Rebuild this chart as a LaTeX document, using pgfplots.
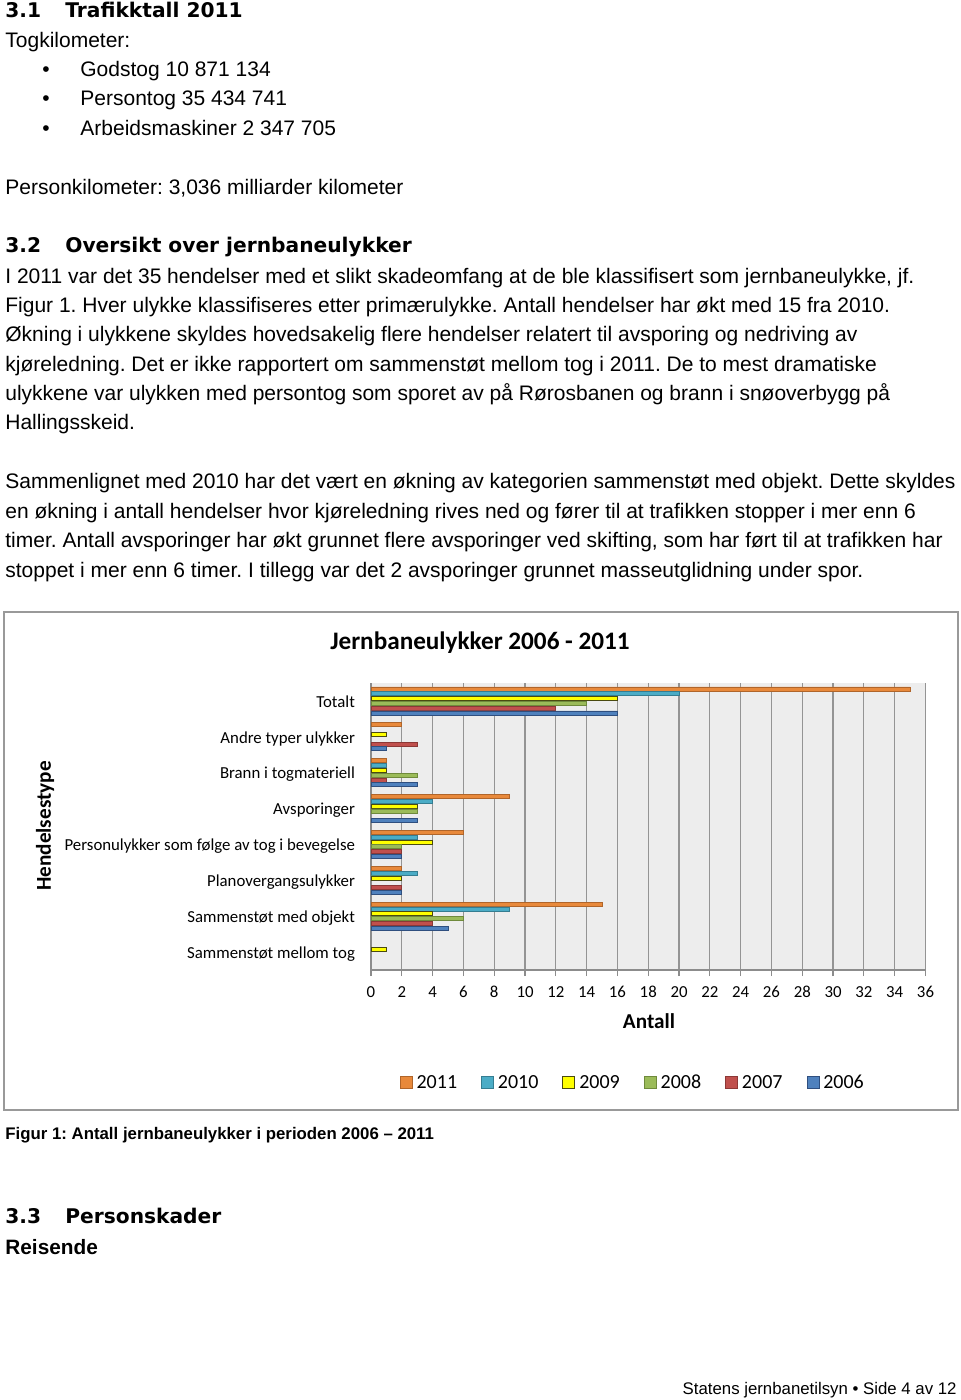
\documentclass[border=0pt]{standalone}
\usepackage{pgfplots}
\pgfplotsset{compat=1.18}
\usepackage{fontspec}
\setmainfont{Liberation Sans}
\newfontfamily\calibri{Carlito}
\newfontfamily\dejavu{DejaVu Sans}
\definecolor{c11}{HTML}{E8893B}\definecolor{c11d}{HTML}{B0652A}
\definecolor{c10}{HTML}{4BACC6}\definecolor{c10d}{HTML}{357D91}
\definecolor{c09}{HTML}{FFFF00}\definecolor{c09d}{HTML}{4A4A10}
\definecolor{c08}{HTML}{9BBB59}\definecolor{c08d}{HTML}{6F8A3C}
\definecolor{c07}{HTML}{C0504D}\definecolor{c07d}{HTML}{8C3836}
\definecolor{c06}{HTML}{4F81BD}\definecolor{c06d}{HTML}{2F4F7F}
\pgfplotsset{sqleg/.style={legend image code/.code={\draw[##1,line width=0.4pt] (0pt,-3pt) rectangle (6pt,3pt);}}}
\frenchspacing
\begin{document}
\begin{tikzpicture}[x=0.5pt,y=-0.5pt]
\path[use as bounding box] (0,0) rectangle (960,1400);
\tikzset{body/.style={anchor=mid west,inner sep=0pt,font=\fontsize{10.5}{12}\selectfont},
  head/.style={anchor=mid west,inner sep=0pt,font=\dejavu\bfseries\fontsize{10.1}{12}\selectfont}}
\node[head] at (5,12) {3.1};
\node[head] at (65,12) {Trafikktall 2011};
\node[body] at (5,42) {Togkilometer:};
\node[body] at (42,71) {•};
\node[body] at (80,71) {Godstog 10 871 134};
\node[body] at (42,100) {•};
\node[body] at (80,100) {Persontog 35 434 741};
\node[body] at (42,130) {•};
\node[body] at (80,130) {Arbeidsmaskiner 2 347 705};
\node[body] at (5,189) {Personkilometer: 3,036 milliarder kilometer};
\node[head] at (5,247) {3.2};
\node[head] at (65,247) {Oversikt over jernbaneulykker};
\node[body] at (5,278) {I 2011 var det 35 hendelser med et slikt skadeomfang at de ble klassifisert som jernbaneulykke, jf.};
\node[body] at (5,307) {Figur 1. Hver ulykke klassifiseres etter primærulykke. Antall hendelser har økt med 15 fra 2010.};
\node[body] at (5,336) {Økning i ulykkene skyldes hovedsakelig flere hendelser relatert til avsporing og nedriving av};
\node[body] at (5,366) {kjøreledning. Det er ikke rapportert om sammenstøt mellom tog i 2011. De to mest dramatiske};
\node[body] at (5,395) {ulykkene var ulykken med persontog som sporet av på Rørosbanen og brann i snøoverbygg på};
\node[body] at (5,424) {Hallingsskeid.};
\node[body] at (5,483) {Sammenlignet med 2010 har det vært en økning av kategorien sammenstøt med objekt. Dette skyldes};
\node[body] at (5,513) {en økning i antall hendelser hvor kjøreledning rives ned og fører til at trafikken stopper i mer enn 6};
\node[body] at (5,542) {timer. Antall avsporinger har økt grunnet flere avsporinger ved skifting, som har ført til at trafikken har};
\node[body] at (5,572) {stoppet i mer enn 6 timer. I tillegg var det 2 avsporinger grunnet masseutglidning under spor.};
% chart frame
\draw[draw=black!40,line width=0.9pt] (4,612) rectangle (958,1110);
\node[inner sep=0pt,font=\calibri\bfseries\fontsize{12.6}{14}\selectfont] at (480,643) {Jernbaneulykker 2006 - 2011};
\node[rotate=90,inner sep=0pt,font=\calibri\bfseries\fontsize{10.6}{12}\selectfont] at (45,826) {Hendelsestype};
\node[inner sep=0pt,font=\calibri\bfseries\fontsize{10.6}{12}\selectfont] at (649,1021) {Antall};
\coordinate (A) at (371,970);
\begin{axis}[at={(A)},anchor=south west,scale only axis,
  width=277.25pt,height=143.5pt,
  xbar,bar width=2.0pt,
  xmin=0,xmax=36,ymin=-0.5,ymax=7.5,
  xtick={0,2,...,36},ytick={0,...,7},
  yticklabels={Sammenstøt mellom tog,Sammenstøt med objekt,Planovergangsulykker,Personulykker som følge av tog i bevegelse,Avsporinger,Brann i togmateriell,Andre typer ulykker,Totalt},
  /pgf/number format/assume math mode=true,
  typeset ticklabels with strut,
  ticklabel style={font=\calibri\fontsize{8.4}{9}\selectfont},
  yticklabel style={xshift=-1.5pt,yshift=-1.3pt},
  xticklabel style={yshift=-1pt},
  axis background/.style={fill=black!7},
  xmajorgrids,major grid style={draw=black!42,line width=0.6pt},
  axis x line*=bottom,axis y line*=left,
  axis line style={draw=black!45,line width=0.6pt},
  x axis line style={-},y axis line style={-},
  tick align=outside,major tick length=3pt,
  xtick style={draw=black!45,line width=0.6pt},ytick style={draw=none},
  legend columns=6,
  legend style={at={(0.474,-0.39)},anchor=center,draw=none,fill=none,
    font=\calibri\fontsize{10}{11}\selectfont,
    nodes={text height=0.68em,text depth=0.05em},
    /tikz/every even column/.append style={column sep=10pt}},
]
\addplot[sqleg,fill=c11,draw=c11d,line width=0.4pt,bar shift=6pt] coordinates {(35,7) (2,6) (1,5) (9,4) (6,3) (2,2) (15,1)};
\addplot[sqleg,fill=c10,draw=c10d,line width=0.4pt,bar shift=3.6pt] coordinates {(20,7) (1,5) (4,4) (3,3) (3,2) (9,1)};
\addplot[sqleg,fill=c09,draw=c09d,line width=0.4pt,bar shift=1.2pt] coordinates {(16,7) (1,6) (1,5) (3,4) (4,3) (2,2) (4,1) (1,0)};
\addplot[sqleg,fill=c08,draw=c08d,line width=0.4pt,bar shift=-1.2pt] coordinates {(14,7) (3,5) (3,4) (2,3) (6,1)};
\addplot[sqleg,fill=c07,draw=c07d,line width=0.4pt,bar shift=-3.6pt] coordinates {(12,7) (3,6) (1,5) (2,3) (2,2) (4,1)};
\addplot[sqleg,fill=c06,draw=c06d,line width=0.4pt,bar shift=-6pt] coordinates {(16,7) (1,6) (3,5) (3,4) (2,3) (2,2) (5,1)};
\legend{2011,2010,2009,2008,2007,2006}
\end{axis}
\node[anchor=mid west,inner sep=0pt,font=\bfseries\fontsize{8.4}{10}\selectfont] at (5,1134) {Figur 1: Antall jernbaneulykker i perioden 2006 – 2011};
\node[head] at (5,1218) {3.3};
\node[head] at (65,1218) {Personskader};
\node[anchor=mid west,inner sep=0pt,font=\bfseries\fontsize{10.4}{12}\selectfont] at (5,1249) {Reisende};
\node[anchor=mid east,inner sep=0pt,font=\fontsize{8.4}{10}\selectfont] at (957,1389) {Statens jernbanetilsyn • Side 4 av 12};
\end{tikzpicture}
\end{document}
